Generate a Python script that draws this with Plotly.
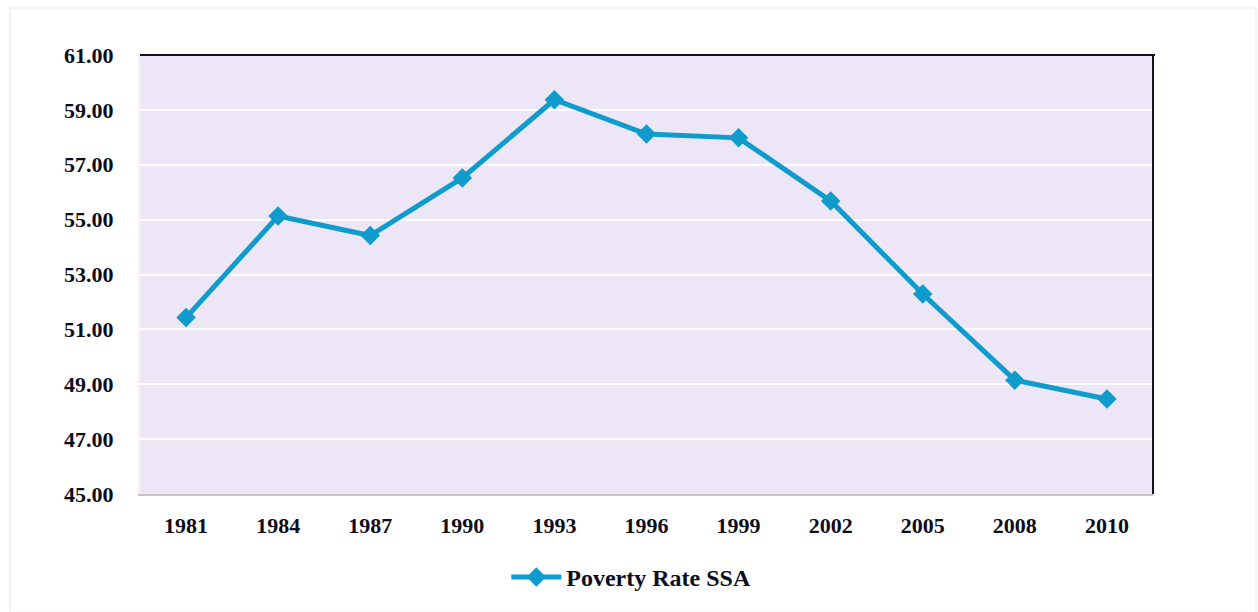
import plotly.graph_objects as go

# Daten
years = ["1981", "1984", "1987", "1990", "1993", "1996", "1999", "2002", "2005", "2008", "2010"]
poverty_rate = [51.43, 55.13, 54.42, 56.52, 59.37, 58.12, 57.98, 55.68, 52.29, 49.15, 48.46]
y_ticks = [45, 47, 49, 51, 53, 55, 57, 59, 61]

line_col = "#0F9BCB"
font_fam = "Liberation Serif, Times New Roman, serif"

fig = go.Figure()
fig.add_trace(go.Scatter(
    x=years, y=poverty_rate,
    mode="lines+markers", name="Poverty Rate SSA",
    line=dict(color=line_col, width=5),
    marker=dict(symbol="diamond", size=15, color=line_col),
))

# Rahmen oben/rechts schwarz, äusserer heller Rahmen
fig.add_shape(type="line", xref="paper", yref="paper", x0=0, x1=1.002, y0=1, y1=1,
              line=dict(color="#111122", width=2))
fig.add_shape(type="line", xref="paper", yref="paper", x0=1, x1=1, y0=0, y1=1,
              line=dict(color="#111122", width=2))
fig.add_shape(type="rect", xref="paper", yref="paper", x0=-0.1283, x1=1.1017, y0=-0.27, y1=1.107,
              line=dict(color="#EFEFEF", width=1.5), layer="below")

fig.update_layout(
    width=1258, height=612,
    margin=dict(l=140, r=105, t=55, b=118),
    paper_bgcolor="white",
    plot_bgcolor="#EDE6F7",
    font=dict(family=font_fam, size=22, color="#0D0D1A", weight="bold"),
    showlegend=True,
    legend=dict(orientation="h", x=0.485, xanchor="center", y=-0.19, yanchor="middle",
                font=dict(size=24, weight="bold"), itemwidth=50),
    xaxis=dict(
        type="category", range=[-0.5, len(years) - 0.5],
        showgrid=False, showline=True, linecolor="#C4C4C4", linewidth=2,
        ticks="outside", tickson="boundaries", ticklen=3, tickcolor="white", tickwidth=2,
        tickfont=dict(size=22, weight="bold"), ticklabelstandoff=11,
    ),
    yaxis=dict(
        range=[45, 61], tickvals=y_ticks, tickformat=".2f",
        showgrid=True, gridcolor="white", gridwidth=2,
        showline=True, linecolor="#F4F4F4", linewidth=2, zeroline=False,
        tickfont=dict(size=22, weight="bold"), ticklabelstandoff=20,
    ),
)

# Seitenrand des Browsers entfernen
fig.write_html("out.html", config={"displayModeBar": False},
               post_script="document.body.style.margin='0';")
